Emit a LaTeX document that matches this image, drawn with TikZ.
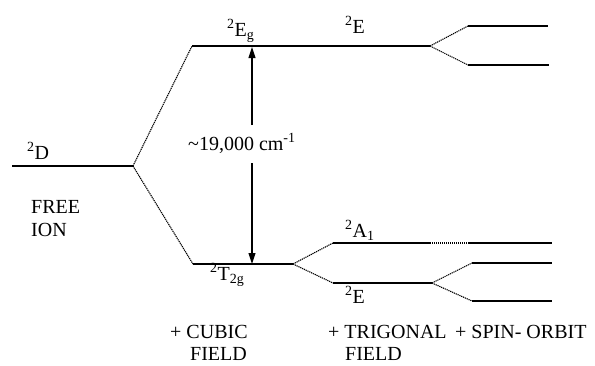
\documentclass[tikz,border=0pt]{standalone}
\usepackage{fontspec}
\setmainfont{Liberation Serif}
\usetikzlibrary{arrows.meta}
\begin{document}
\begin{tikzpicture}[x=1pt,y=-1pt,font=\fontsize{20}{22}\selectfont,
  level/.style={line width=1.1pt},
  link/.style={dash pattern=on 1.2pt off 0.8pt,line width=1.1pt},
  gaparrow/.style={line width=1.1pt,-{Triangle[length=11pt,width=7pt]}},
  lbl/.style={inner sep=0pt,anchor=base west}]
  \useasboundingbox (0,0) rectangle (595,365);

  % levels
  \coordinate (d0) at (12,166);   \coordinate (d1) at (133,166);
  \coordinate (eg0) at (192,46);  \coordinate (eg1) at (430,46);
  \coordinate (ea0) at (468,26);  \coordinate (ea1) at (548,26);
  \coordinate (eb0) at (468,65);  \coordinate (eb1) at (549,65);
  \coordinate (t0) at (193,264);  \coordinate (t1) at (293,264);
  \coordinate (a0) at (333,243);  \coordinate (a1) at (430,243);
  \coordinate (a2) at (468,243);  \coordinate (a3) at (552,243);
  \coordinate (e0) at (333,283);  \coordinate (e1) at (432,283);
  \coordinate (ec0) at (472,263); \coordinate (ec1) at (552,263);
  \coordinate (ed0) at (472,301); \coordinate (ed1) at (552,301);

  \draw[level] (d0) -- (d1);
  \draw[level] (eg0) -- (eg1);
  \draw[level] (ea0) -- (ea1);
  \draw[level] (eb0) -- (eb1);
  \draw[level] (t0) -- (t1);
  \draw[level] (a0) -- (a1);
  \draw[level] (a2) -- (a3);
  \draw[level] (e0) -- (e1);
  \draw[level] (ec0) -- (ec1);
  \draw[level] (ed0) -- (ed1);

  % correlation lines
  \draw[link] (d1) -- (eg0);
  \draw[link] (d1) -- (t0);
  \draw[link] (eg1) -- (ea0);
  \draw[link] (eg1) -- (eb0);
  \draw[link] (t1) -- (a0);
  \draw[link] (t1) -- (e0);
  \draw[link] (a1) -- (a2);
  \draw[link] (e1) -- (ec0);
  \draw[link] (e1) -- (ed0);

  % splitting
  \node[lbl] (gap) at (188,150) {\textasciitilde 19,000 cm\textsuperscript{-1}};
  \coordinate (gtop) at (252,125); \coordinate (gup) at (252,47);
  \coordinate (gbot) at (252,163); \coordinate (gdown) at (252,264);
  \draw[gaparrow] (gtop) -- (gup);
  \draw[gaparrow] (gbot) -- (gdown);

  % term labels
  \node[lbl] (termd) at (27,159) {\textsuperscript{2}D};
  \node[lbl] (termeg) at (227,36) {\textsuperscript{2}E\textsubscript{g}};
  \node[lbl] (terme) at (345,33) {\textsuperscript{2}E};
  \node[lbl] (termt) at (210,280) {\textsuperscript{2}T\textsubscript{2g}};
  \node[lbl] (terma) at (345,237) {\textsuperscript{2}A\textsubscript{1}};
  \node[lbl] (termel) at (345,303) {\textsuperscript{2}E};

  % stage labels
  \node[lbl] (free) at (31,213) {FREE};
  \node[lbl] (ion) at (31,236) {ION};
  \node[lbl] (cubic) at (170,338) {+ CUBIC};
  \node[lbl] (cubicf) at (190,360) {FIELD};
  \node[lbl] (trig) at (328,338) {+ TRIGONAL};
  \node[lbl] (trigf) at (345,360) {FIELD};
  \node[lbl] (spin) at (455,338) {+ SPIN- ORBIT};
\end{tikzpicture}
\end{document}
